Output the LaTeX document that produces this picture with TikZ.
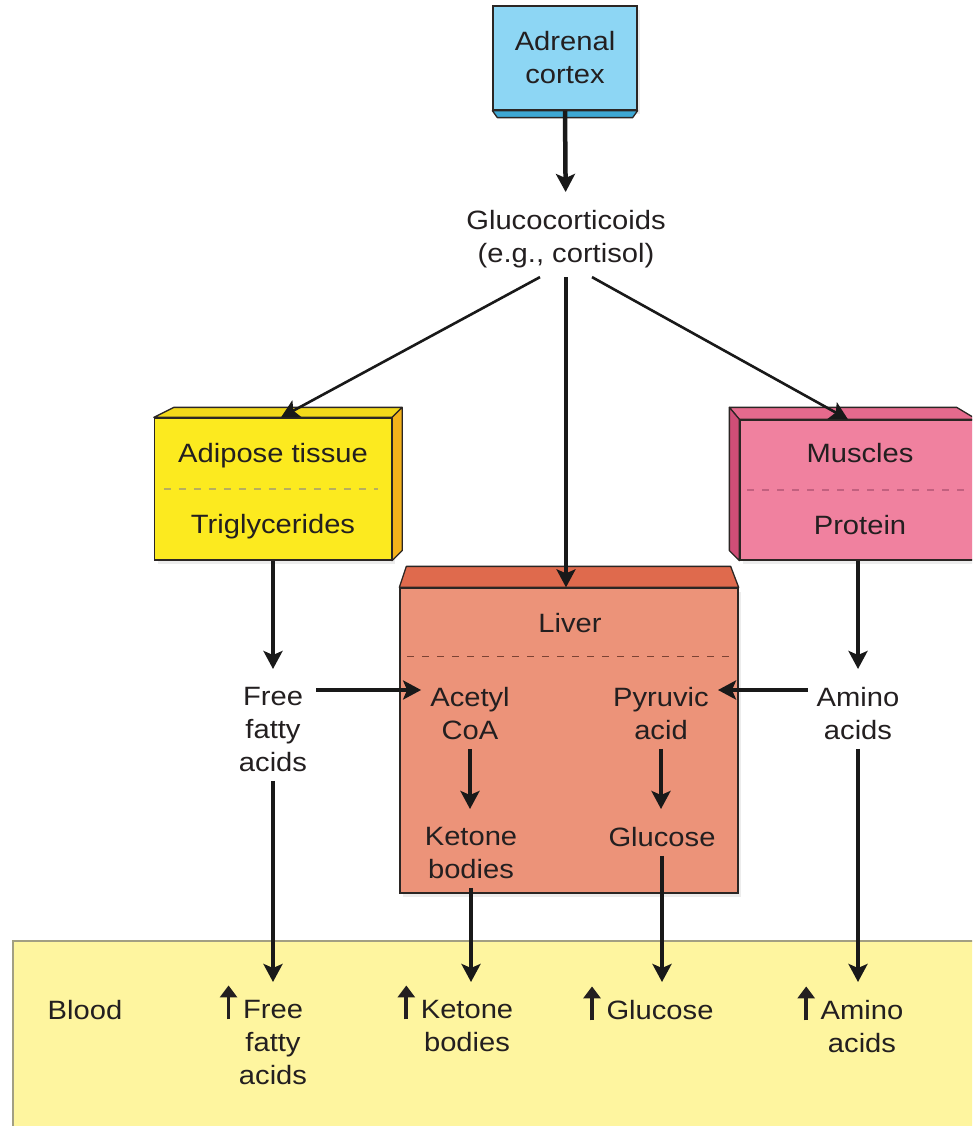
\documentclass[tikz,border=0pt]{standalone}
\usepackage{fontspec}
\setmainfont{Liberation Sans}[FakeStretch=1.1]
\usetikzlibrary{arrows.meta,positioning,shadows}

\definecolor{ink}{HTML}{231F20}
\definecolor{edge}{HTML}{2B2624}
\definecolor{adrenalface}{HTML}{8DD6F4}
\definecolor{adrenalside}{HTML}{3EA8D4}
\definecolor{fatface}{HTML}{FCEA1F}
\definecolor{fattop}{HTML}{F3D91A}
\definecolor{fatside}{HTML}{F4B21A}
\definecolor{fatdash}{HTML}{B7AE5E}
\definecolor{muscleface}{HTML}{F0819F}
\definecolor{muscletop}{HTML}{E56A8D}
\definecolor{muscleside}{HTML}{CF4E77}
\definecolor{muscledash}{HTML}{C2607F}
\definecolor{liverface}{HTML}{EC9379}
\definecolor{livertop}{HTML}{DF6A4D}
\definecolor{liverdash}{HTML}{7C4233}
\definecolor{bloodfill}{HTML}{FEF59F}
\definecolor{bloodedge}{HTML}{A29F83}

% small rising arrow in front of a blood level
\newcommand{\upmark}{\llap{\smash{\tikz[baseline]\draw[line width=3.8pt,-{Triangle[length=12pt,width=17pt]}] (0,-1pt) -- (0,33pt);}\hspace{6pt}}}

\begin{document}
\begin{tikzpicture}[x=1pt,y=-1pt,
every node/.style={font=\fontsize{26.5}{33}\selectfont, text=ink},
chem/.style={align=center, inner sep=9pt},
organ/.style={
	draw=edge,
	line width=1.3pt,
	inner sep=0pt,
	drop shadow={opacity=0.15, shadow xshift=3pt, shadow yshift=-4pt}
},
face/.style={draw=edge, line width=1.3pt, line join=round},
divider/.style={line width=1.3pt, dash pattern=on 7pt off 8pt},
flow/.style={draw=black!90, line width=4.5pt, -{Stealth[length=18pt,width=19pt,inset=4pt]}},
down/.style={flow, shorten >=9pt},
branch/.style={flow, line width=2.6pt}
]
\useasboundingbox (0,0) rectangle (972,1126);
\clip (0,0) rectangle (972,1126);

% blood band
\node[draw=bloodedge, fill=bloodfill, line width=2pt, minimum width=990pt,
  minimum height=200pt, anchor=north west] (blood) at (12,940) {};

% adrenal cortex
\node[organ, fill=adrenalface, minimum width=144pt, minimum height=104pt, align=center]
(adr) at (565,58) {Adrenal\\cortex};
\filldraw[face, fill=adrenalside] (adr.south west) -- (adr.south east) -- ++(-5,7)
  -- ([shift={(5,7)}]adr.south west) -- cycle;
\node[chem, anchor=north] (gluc) at (566,201) {Glucocorticoids\\(e.g., cortisol)};

% adipose tissue
\node[organ, fill=fatface, minimum width=237pt, minimum height=142pt] (fat) at (273,489) {};
\filldraw[face, fill=fattop] (fat.north west) -- ++(20,-10)
  -- ([shift={(10,-10)}]fat.north east) -- (fat.north east) -- cycle;
\filldraw[face, fill=fatside] (fat.north east) -- ++(10,-10)
  -- ([shift={(10,-10)}]fat.south east) -- (fat.south east) -- cycle;
\draw[divider, draw=fatdash] ([xshift=10pt]fat.west) -- ([xshift=-14pt]fat.east);
\node[chem, anchor=north] (adip) at (273,434) {Adipose tissue};
\node[chem, anchor=north] (trig) at (273,505) {Triglycerides};

% muscles
\node[organ, fill=muscleface, minimum width=236pt, minimum height=140pt] (mus) at (858,490) {};
\filldraw[face, fill=muscletop] (mus.north west) -- ++(-10,-12)
  -- ([shift={(-20,-12)}]mus.north east) -- (mus.north east) -- cycle;
\filldraw[face, fill=muscleside] (mus.north west) -- ++(-10,-12)
  -- ([shift={(-10,-10)}]mus.south west) -- (mus.south west) -- cycle;
\draw[divider, draw=muscledash] ([xshift=8pt]mus.west) -- ([xshift=-10pt]mus.east);
\node[chem, anchor=north] (musc) at (860,434) {Muscles};
\node[chem, anchor=north] (prot) at (860,506) {Protein};

% liver
\node[organ, fill=liverface, minimum width=338pt, minimum height=305pt] (liv) at (569,740.5) {};
\filldraw[face, fill=livertop] (liv.north west) -- ++(7,-21)
  -- ([shift={(-8,-21)}]liv.north east) -- (liv.north east) -- cycle;
\draw[divider, draw=liverdash] ([shift={(8,69)}]liv.north west) -- ([shift={(-8,69)}]liv.north east);
\node[chem, anchor=north] (livl) at (570,604) {Liver};

\node[chem, anchor=north] (ffa) at (273,678) {Free\\fatty\\acids};
\node[chem, anchor=north] (acoa) at (470,678) {Acetyl\\CoA};
\node[chem, anchor=north] (pyr) at (661,678) {Pyruvic\\acid};
\node[chem, anchor=north] (amino) at (858,678) {Amino\\acids};
\node[chem, anchor=north] (ket) at (471,818) {Ketone\\bodies};
\node[chem, anchor=north] (glc) at (662,818) {Glucose};

% levels in the blood
\node[chem, anchor=north] (bl) at (85,991) {Blood};
\node[chem, anchor=north] (bffa) at (273,991) {\upmark Free\\fatty\\acids};
\node[chem, anchor=north] (bket) at (467,991) {\upmark Ketone\\bodies};
\node[chem, anchor=north] (bglu) at (660,991) {\upmark Glucose};
\node[chem, anchor=north] (bami) at (862,991) {\upmark Amino\\acids};

\draw[down] (adr.south) -- (gluc);
\draw[branch] ([xshift=-26pt]gluc.south) -- ([xshift=8pt]fat.north);
\draw[branch] ([xshift=26pt]gluc.south) -- ([xshift=-10pt]mus.north);
\draw[flow] (gluc.south) -- (gluc.south |- liv.north);
\draw[down] (fat.south) -- (ffa);
\draw[down] (mus.south) -- (amino);
\draw[flow] ([yshift=-12pt]ffa.north east) -- ([yshift=-12pt]acoa.north west);
\draw[flow] ([yshift=-12pt]amino.north west) -- ([yshift=-12pt]pyr.north east);
\draw[down] (acoa.south) -- (acoa.south |- ket.north);
\draw[down] (pyr.south) -- (pyr.south |- glc.north);
\draw[down] (ffa.south) -- (ffa.south |- bffa.north);
\draw[down] (ket.south) -- (ket.south |- bket.north);
\draw[down] (glc.south) -- (glc.south |- bglu.north);
\draw[down] (amino.south) -- (amino.south |- bami.north);

\end{tikzpicture}
\end{document}
